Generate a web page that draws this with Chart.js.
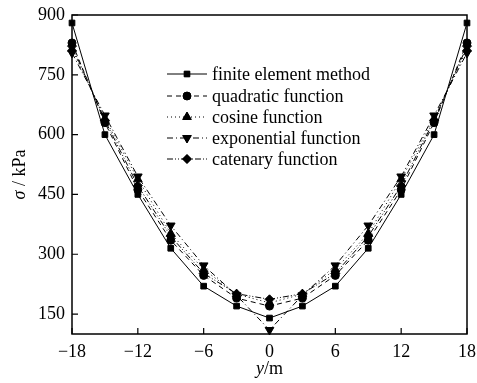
<!DOCTYPE html>
<html>
<head>
<meta charset="utf-8">
<script src="https://cdn.jsdelivr.net/npm/chart.js@4/dist/chart.umd.min.js"></script>
<style>
  html, body { margin: 0; padding: 0; background: #fff; }
  #wrap { width: 477px; height: 383px; position: relative; }
</style>
</head>
<body>
<div id="wrap"><canvas id="chart"></canvas></div>
<script>
// positions along the span (m)
const positions = [-18, -15, -12, -9, -6, -3, 0, 3, 6, 9, 12, 15, 18];
// stress values (kPa)
const femValues  = [880, 600, 450, 315, 220, 170, 140, 170, 220, 315, 450, 600, 880];
const quadValues = [830, 630, 462, 335, 247, 190, 170, 190, 247, 335, 462, 630, 830];
const cosValues  = [815, 640, 488, 352, 262, 200, 178, 200, 262, 352, 488, 640, 815];
const expValues  = [805, 648, 495, 372, 272, 197, 110, 197, 272, 372, 495, 648, 805];
const catValues  = [822, 636, 472, 345, 252, 201, 187, 201, 252, 345, 472, 636, 822];

const xTicks = [-18, -12, -6, 0, 6, 12, 18];
const yTicks = [150, 300, 450, 600, 750, 900];

const serif = "'Liberation Serif', 'DejaVu Serif', serif";

const series = [
    { label: 'finite element method', data: femValues,  dash: [],              style: 'rect',     rot: 0,   r: 4 },
    { label: 'quadratic function',    data: quadValues, dash: [5, 4],          style: 'circle',   rot: 0,   r: 4 },
    { label: 'cosine function',       data: cosValues,  dash: [1, 3],          style: 'triangle', rot: 0,   r: 5 },
    { label: 'exponential function',  data: expValues,  dash: [6, 3, 1, 3],    style: 'triangle', rot: 180, r: 5 },
    { label: 'catenary function',     data: catValues,  dash: [6, 2, 1, 2, 1, 2], style: 'rectRot', rot: 0, r: 4.5 }
];

function fmt(v) {
    return v < 0 ? '\u2212' + Math.abs(v) : String(v);
}

// frame, inward ticks, axis titles and the in-plot legend
const decorations = {
    id: 'decorations',
    afterDraw(chart) {
        const ctx = chart.ctx;
        const a = chart.chartArea;
        const xs = chart.scales.x, ys = chart.scales.y;
        ctx.save();
        ctx.strokeStyle = '#000';
        ctx.lineWidth = 1.5;
        ctx.setLineDash([]);
        ctx.strokeRect(a.left, a.top, a.right - a.left, a.bottom - a.top);

        ctx.lineWidth = 1.2;
        ctx.beginPath();
        xTicks.forEach(v => {
            const px = xs.getPixelForValue(v);
            ctx.moveTo(px, a.bottom); ctx.lineTo(px, a.bottom - 6);
        });
        yTicks.forEach(v => {
            const py = ys.getPixelForValue(v);
            ctx.moveTo(a.left, py); ctx.lineTo(a.left + 6, py);
        });
        ctx.stroke();

        // x title: y/m
        ctx.fillStyle = '#000';
        ctx.textBaseline = 'middle';
        ctx.textAlign = 'left';
        const cx = (a.left + a.right) / 2;
        ctx.font = 'italic 18px ' + serif;
        const wY = ctx.measureText('y').width;
        ctx.font = '18px ' + serif;
        const wRest = ctx.measureText('/m').width;
        let sx = cx - (wY + wRest) / 2;
        ctx.font = 'italic 18px ' + serif;
        ctx.fillText('y', sx, 369);
        ctx.font = '18px ' + serif;
        ctx.fillText('/m', sx + wY, 369);

        // y title: σ / kPa
        ctx.save();
        ctx.translate(20, (a.top + a.bottom) / 2);
        ctx.rotate(-Math.PI / 2);
        ctx.font = 'italic 18px ' + serif;
        const wS = ctx.measureText('\u03c3').width;
        ctx.font = '18px ' + serif;
        const wK = ctx.measureText(' / kPa').width;
        sx = -(wS + wK) / 2;
        ctx.font = 'italic 18px ' + serif;
        ctx.fillText('\u03c3', sx, 0);
        ctx.font = '18px ' + serif;
        ctx.fillText(' / kPa', sx + wS, 0);
        ctx.restore();

        // legend
        const lx0 = 167, lx1 = 207, tx = 212;
        const rowY = [74, 96, 117, 138, 159];
        series.forEach((s, i) => {
            const y = rowY[i];
            ctx.lineWidth = 1;
            ctx.setLineDash(s.dash);
            ctx.beginPath();
            ctx.moveTo(lx0, y); ctx.lineTo(lx1, y);
            ctx.stroke();
            ctx.setLineDash([]);
            Chart.helpers.drawPoint(ctx, { pointStyle: s.style, rotation: s.rot, radius: s.r, borderWidth: 1 }, (lx0 + lx1) / 2, y);
            ctx.fill();
            ctx.font = '18px ' + serif;
            ctx.fillStyle = '#000';
            ctx.fillText(s.label, tx, y + 1);
        });
        ctx.restore();
    }
};

new Chart(document.getElementById('chart'), {
    type: 'line',
    data: {
        datasets: series.map(s => ({
            label: s.label,
            data: positions.map((x, i) => ({ x: x, y: s.data[i] })),
            borderColor: '#000',
            backgroundColor: '#000',
            borderWidth: 1,
            borderDash: s.dash,
            pointStyle: s.style,
            pointRotation: s.rot,
            pointRadius: s.r,
            pointBorderWidth: 1,
            pointBackgroundColor: '#000',
            pointBorderColor: '#000',
            tension: 0,
            clip: false
        }))
    },
    options: {
        responsive: true,
        maintainAspectRatio: false,
        animation: false,
        events: [],
        layout: { padding: { top: 15, right: 10, left: 0, bottom: 0 } },
        plugins: {
            legend: { display: false },
            tooltip: { enabled: false }
        },
        scales: {
            x: {
                type: 'linear',
                min: -18, max: 18,
                afterBuildTicks: scale => { scale.ticks = xTicks.map(v => ({ value: v })); },
                afterFit: scale => { scale.height = 49; scale.paddingLeft = 0; scale.paddingRight = 0; },
                grid: { display: false, drawTicks: false },
                border: { display: false },
                ticks: { color: '#000', padding: 7, maxRotation: 0, font: { family: serif, size: 18 }, callback: v => fmt(v) }
            },
            y: {
                type: 'linear',
                min: 100, max: 900,
                afterBuildTicks: scale => { scale.ticks = yTicks.map(v => ({ value: v })); },
                afterFit: scale => { scale.width = 72; scale.paddingTop = 0; scale.paddingBottom = 0; },
                grid: { display: false, drawTicks: false },
                border: { display: false },
                ticks: { color: '#000', padding: 7, font: { family: serif, size: 18 }, callback: v => fmt(v) }
            }
        }
    },
    plugins: [decorations]
});
</script>
</body>
</html>
